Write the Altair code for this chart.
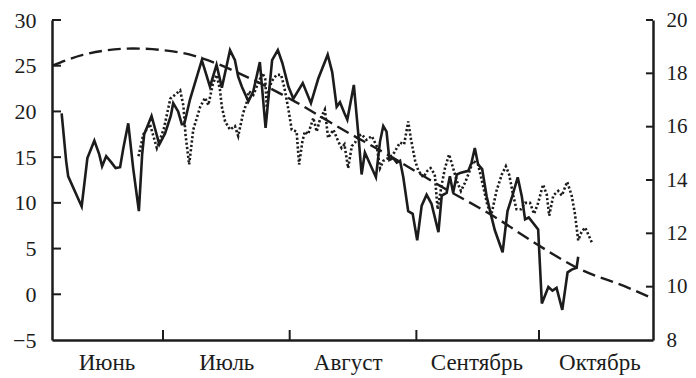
import altair as alt
import pandas as pd

# Days counted from 1 June (day 0)
solid_day = [5.2, 6.3, 6.8, 10.1, 11.5, 13.2, 14.4, 15.1, 16.1, 17.4, 18.4, 19.5, 20.3, 21.5, 22.7,
             24.1, 24.9, 25.4, 27.2, 29.1, 30.5, 31.9, 32.5, 33.7, 34.6, 35.2, 36.6, 39.5, 41.5, 43.1,
             44.4, 46.4, 47.6, 48.4, 49.3, 50.9, 52.1, 53.7, 55.1, 56.7, 58.1, 59.2, 60.7, 61.9, 64.2,
             66.2, 68.0, 70.3, 71.4, 72.5, 73.3, 74.4, 75.1, 76.7, 77.8, 78.6, 79.4, 82.1, 83.1, 83.9,
             84.7, 85.4, 86.3, 87.2, 88.0, 88.8, 90.0, 91.1, 92.2, 93.3, 94.5, 95.7, 97.4, 98.2, 99.4,
             100.2, 101.0, 101.9, 102.9, 104.7, 105.5, 106.3, 107.1, 108.1, 109.2, 110.3, 111.2, 113.1,
             114.3, 115.5, 116.8, 117.8, 118.6, 119.5, 121.8, 122.7, 124.3, 125.3, 126.3, 127.7, 129.0,
             130.0, 131.2, 131.6]
solid_temp = [19.8, 14.6, 12.9, 9.6, 14.9, 16.8, 15.3, 14.0, 15.1, 14.4, 13.8, 13.9, 16.0, 18.7, 13.8,
              9.1, 15.3, 17.5, 19.5, 16.4, 17.6, 19.5, 20.9, 20.0, 18.6, 18.6, 21.3, 25.6, 22.7, 25.1,
              22.6, 26.7, 25.6, 23.8, 22.7, 21.1, 22.2, 25.4, 18.2, 25.6, 26.7, 25.3, 22.7, 21.4, 23.1,
              20.9, 23.6, 26.2, 24.3, 20.5, 21.0, 19.8, 19.1, 22.9, 17.5, 13.1, 15.5, 12.8, 16.7, 18.4,
              17.8, 14.7, 14.9, 14.4, 14.6, 12.8, 9.1, 8.8, 5.9, 9.7, 10.9, 9.9, 6.8, 10.8, 11.1,
              12.9, 11.1, 13.1, 13.3, 13.5, 14.4, 16.0, 14.2, 13.7, 10.7, 8.6, 7.0, 4.6,
              9.1, 10.8, 12.8, 10.7, 8.2, 8.4, 7.1, -1.0, 0.8, 0.4, 0.7, -1.7, 2.4,
              2.7, 2.9, 4.1]

dot_day = [24.0, 25.2, 26.8, 28.5, 30.2, 31.8, 34.2, 35.0, 35.5, 36.4, 37.4, 39.1, 40.3, 41.1, 42.2,
           43.1, 43.9, 44.4, 45.2, 46.4, 47.6, 48.4, 49.6, 50.5, 51.0, 52.1, 53.3, 54.3, 55.0, 55.4,
           55.8, 56.6, 57.8, 58.9, 59.7, 60.7, 61.5, 62.7, 63.3, 64.1, 64.7, 65.5, 66.8, 67.6, 68.4,
           69.6, 70.4, 71.7, 72.9, 73.7, 74.4, 75.3, 76.2, 77.0, 77.8, 78.6, 79.8, 81.1, 82.3, 83.1,
           83.9, 85.1, 86.3, 88.0, 89.0, 90.0, 90.7, 91.7, 92.5, 93.7, 94.7, 95.5, 96.5, 97.2, 98.2,
           99.0, 100.0, 101.0, 101.9, 102.9, 103.9, 104.7, 105.9, 107.1, 108.4, 109.4, 110.4, 111.6,
           112.9, 113.9, 114.7, 115.7, 116.5, 117.6, 118.6, 119.8, 120.8, 121.8, 123.0, 123.9, 124.5,
           125.5, 126.7, 127.6, 128.9, 130.0, 130.8, 131.6, 132.4, 133.3, 134.9]
dot_temp = [15.1, 17.5, 18.6, 16.0, 18.1, 21.4, 22.3, 20.6, 17.5, 14.2, 18.0, 20.5, 21.5, 20.7, 23.0,
            24.0, 22.5, 20.5, 18.9, 18.0, 18.4, 17.3, 19.8, 21.0, 22.2, 21.8, 23.1, 24.2, 23.6, 20.4,
            22.2, 23.3, 24.0, 24.0, 22.6, 20.2, 18.0, 17.8, 14.2, 16.7, 17.8, 17.5, 19.3, 17.8, 19.1,
            20.2, 17.1, 18.0, 16.7, 16.0, 16.4, 13.8, 16.2, 16.6, 17.3, 17.5, 16.9, 17.3, 16.2, 13.8,
            14.6, 14.9, 15.3, 16.6, 16.4, 18.9, 16.9, 14.6, 13.5, 12.8, 13.5, 13.8, 13.1, 9.3, 12.0,
            13.8, 15.3, 13.8, 12.4, 11.3, 12.2, 13.1, 14.6, 14.2, 11.7, 9.7, 8.8, 11.3,
            13.1, 14.0, 13.1, 10.8, 9.3, 9.3, 10.0, 10.0, 8.8, 10.0, 12.0, 10.9, 8.6,
            10.8, 11.3, 10.8, 12.3, 10.8, 8.8, 5.9, 6.8, 7.3, 5.7]

dash_day = [3.1, 10.4, 22.7, 34.9, 39.8, 51.3, 62.3, 73.3, 85.5, 97.8, 110.7, 122.0, 131.3, 144.3, 149.9]
dash_hours = [18.3, 18.69, 18.93, 18.76, 18.55, 17.81, 16.94, 15.95, 14.9, 13.78, 12.66, 11.54, 10.71, 9.93, 9.55]

month_names = ["Июнь", "Июль", "Август", "Сентябрь", "Октябрь"]
month_label_day = [16.3, 45.6, 75.3, 106.8, 136.9]
month_start_day = [30, 61, 92, 122]
left_ticks = [0, 5, 10, 15, 20, 25, 30]
right_ticks = [10, 12, 14, 16, 18, 20]

W, H = 601, 320
FONT = "Liberation Serif"
INK = "#1c1c1c"

xs = alt.Scale(domain=[2.84, 149.9], nice=False, zero=False)
yl = alt.Scale(domain=[-5, 30], nice=False, zero=False)
yr = alt.Scale(domain=[8, 20], nice=False, zero=False)

df_solid = pd.DataFrame({"day": solid_day, "t": solid_temp})
df_dot = pd.DataFrame({"day": dot_day, "t": dot_temp})
df_dash = pd.DataFrame({"day": dash_day, "h": dash_hours})
df_months = pd.DataFrame({"d": month_label_day, "m": month_names})
df_bt = pd.DataFrame({"d": month_start_day})
df_lt = pd.DataFrame({"v": left_ticks})
df_rt = pd.DataFrame({"v": right_ticks})

axis_common = dict(title=None, grid=False, ticks=False, labelFont=FONT,
                   labelColor=INK, domainColor=INK, domainWidth=2.5)

solid = alt.Chart(df_solid).mark_line(color=INK, strokeWidth=2.6).encode(
    x=alt.X("day:Q", scale=xs,
            axis=alt.Axis(title=None, labels=False, ticks=False, grid=False,
                          domainColor=INK, domainWidth=2.5)),
    y=alt.Y("t:Q", scale=yl,
            axis=alt.Axis(values=[-5, 0, 5, 10, 15, 20, 25, 30], orient="left",
                          labelPadding=16, labelFontSize=22, **axis_common)),
)
dotted = alt.Chart(df_dot).mark_line(color=INK, strokeWidth=2.6, strokeDash=[2.2, 2.2]).encode(
    x=alt.X("day:Q", scale=xs),
    y=alt.Y("t:Q", scale=yl, axis=None),
)
dashed = alt.Chart(df_dash).mark_line(color=INK, strokeWidth=2.4, strokeDash=[13, 6],
                                      interpolate="monotone").encode(
    x=alt.X("day:Q", scale=xs),
    y=alt.Y("h:Q", scale=yr,
            axis=alt.Axis(values=[8, 10, 12, 14, 16, 18, 20], orient="right",
                          labelPadding=13, labelFontSize=21, **axis_common)),
)
months = alt.Chart(df_months).mark_text(font=FONT, fontSize=23, baseline="alphabetic",
                                        color=INK).encode(
    x=alt.X("d:Q", scale=xs),
    y=alt.value(H + 30),
    text="m:N",
)
bticks = alt.Chart(df_bt).mark_rule(color=INK, strokeWidth=2).encode(
    x=alt.X("d:Q", scale=xs),
    y=alt.value(H),
    y2=alt.value(H - 10),
)
lticks = alt.Chart(df_lt).mark_rule(color=INK, strokeWidth=2).encode(
    y=alt.Y("v:Q", scale=yl, axis=None),
    x=alt.value(0),
    x2=alt.value(9),
)
rticks = alt.Chart(df_rt).mark_rule(color=INK, strokeWidth=2).encode(
    y=alt.Y("v:Q", scale=yr, axis=None),
    x=alt.value(W - 7),
    x2=alt.value(W),
)

chart = alt.layer(solid, dotted, dashed, months, bticks, lticks, rticks).resolve_scale(
    y="independent"
).properties(
    width=W, height=H,
    autosize=alt.AutoSizeParams(type="none"),
    padding={"left": 44, "top": 12, "right": 35, "bottom": 38},
    background="white",
).configure_view(stroke=None)

chart.save("out.html", embed_options={"renderer": "svg", "actions": False})
